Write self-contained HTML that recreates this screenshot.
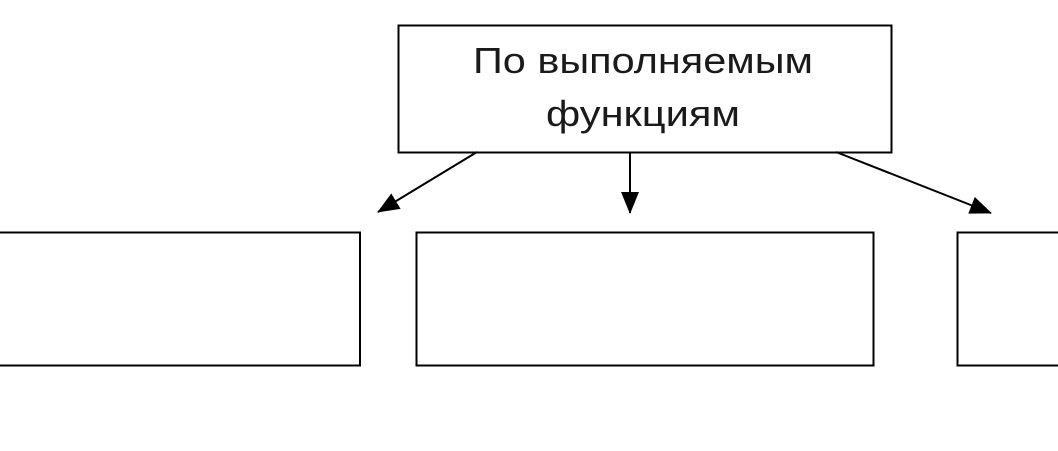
<!DOCTYPE html>
<html><head><meta charset="utf-8"><style>
html,body{margin:0;padding:0;background:#fff;}
body{width:1058px;height:446px;overflow:hidden;}
</style></head><body>
<svg width="1058" height="446" viewBox="0 0 1058 446" xmlns="http://www.w3.org/2000/svg">
<defs>
<marker id="a" markerWidth="22" markerHeight="18" refX="21" refY="9" orient="auto" markerUnits="userSpaceOnUse" viewBox="0 0 22 18">
<path d="M0,0 L22,9 L0,18 z" fill="#000"/>
</marker>
</defs>
<rect x="398.5" y="25.5" width="493" height="127" fill="#fff" stroke="#000" stroke-width="2"/>
<text x="643" y="73" font-family="Liberation Sans, sans-serif" font-size="36" text-anchor="middle" fill="#1a1a1a" textLength="340" lengthAdjust="spacingAndGlyphs">По выполняемым</text>
<text x="643" y="126" font-family="Liberation Sans, sans-serif" font-size="36" text-anchor="middle" fill="#1a1a1a" textLength="194" lengthAdjust="spacingAndGlyphs">функциям</text>
<rect x="-5" y="232.5" width="365" height="133" fill="none" stroke="#000" stroke-width="2"/>
<rect x="416.5" y="232.5" width="457" height="133" fill="none" stroke="#000" stroke-width="2"/>
<rect x="957.5" y="232.5" width="110" height="133" fill="none" stroke="#000" stroke-width="2"/>
<line x1="477" y1="152" x2="378" y2="212" stroke="#000" stroke-width="2" marker-end="url(#a)"/>
<line x1="630" y1="152" x2="630" y2="213" stroke="#000" stroke-width="2" marker-end="url(#a)"/>
<line x1="836" y1="152" x2="991" y2="213" stroke="#000" stroke-width="2" marker-end="url(#a)"/>
</svg>
</body></html>
